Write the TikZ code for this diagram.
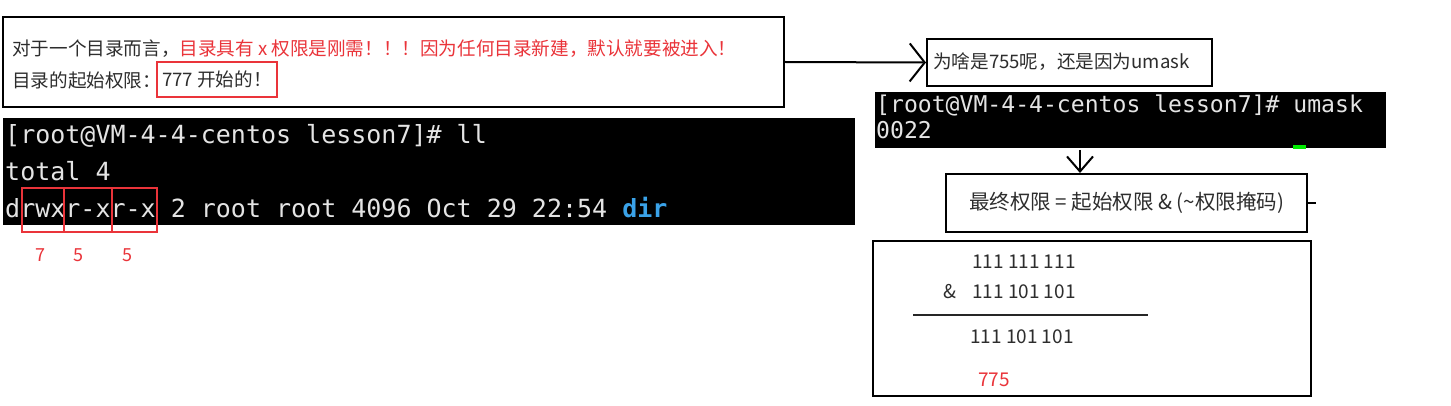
\documentclass[tikz,border=0pt]{standalone}
\usepackage{fontspec}
\usetikzlibrary{arrows.meta}
\newfontfamily\cjk{Noto Sans CJK SC}
\newfontfamily\mono{DejaVu Sans Mono}
\definecolor{myred}{RGB}{234,52,58}
\definecolor{txt}{RGB}{45,45,45}
\definecolor{termtxt}{RGB}{228,228,228}
\definecolor{dirblue}{RGB}{58,162,232}
\definecolor{cursorgreen}{RGB}{0,235,0}
\begin{document}
\begin{tikzpicture}[x=1pt,y=-1pt,
  box/.style={draw=black, line width=2pt, inner sep=0pt},
  termbox/.style={fill=black, draw=none, inner sep=0pt, anchor=north west},
  redbox/.style={draw=myred, line width=1.8pt, inner sep=0pt},
  ttxt/.style={inner sep=0pt, anchor=base west, text=termtxt, font=\mono\fontsize{25}{30}\selectfont},
  ttxtb/.style={inner sep=0pt, anchor=base west, text=termtxt, font=\mono\fontsize{23.1}{28}\selectfont},
  ctxt/.style={inner sep=0pt, anchor=west, text=txt, font=\cjk\fontsize{18.6}{22}\selectfont},
  num/.style={inner sep=0pt, anchor=west, text=txt, font=\cjk\fontsize{19}{22}\selectfont},
  lab/.style={inner sep=0pt, text=myred, font=\cjk\fontsize{18}{21}\selectfont},
  arrR/.style={line width=2pt, -{Straight Barb[length=15pt,width=38pt,line width=2pt]}},
  arrD/.style={line width=2pt, -{Straight Barb[length=15pt,width=26pt,line width=2pt]}}
]
\useasboundingbox (0,0) rectangle (1451,406);
\fill[white] (0,0) rectangle (1451,406);

% top explanation box
\node[box, minimum width=781pt, minimum height=90pt] (topbox) at (393.5,62) {};
\node[ctxt] (l1) at (12,49) {对于一个目录而言，\textcolor{myred}{目录具有 x 权限是刚需！！！因为任何目录新建，默认就要被进入！}};
\node[ctxt] (l2) at (12,80) {目录的起始权限：};
\node[redbox, minimum width=120pt, minimum height=35pt, text=txt, font=\cjk\fontsize{18.6}{22}\selectfont] (start) at (217,79.5) {777 开始的！};

% terminal 1
\node[termbox, minimum width=852pt, minimum height=107pt] (term1) at (3,118) {};
\node[ttxt] (t1a) at (5,144) {[root@VM-4-4-centos lesson7]\# ll};
\node[ttxt] (t1b) at (5,181) {total 4};
\node[ttxt] (t1c) at (5,218) {drwxr-xr-x 2 root root 4096 Oct 29 22:54 {\bfseries\color{dirblue}dir}};
\node[redbox, minimum width=42pt, minimum height=44pt] (rb1) at (43,210) {};
\node[redbox, minimum width=48pt, minimum height=44pt] (rb2) at (88,210) {};
\node[redbox, minimum width=45pt, minimum height=44pt] (rb3) at (134.5,210) {};
\node[lab] (n1) at (40,255) {7};
\node[lab] (n2) at (78,255) {5};
\node[lab] (n3) at (127,255) {5};

% question box
\node[box, minimum width=285pt, minimum height=47pt] (qbox) at (1069.5,62.5) {};
\node[ctxt] (qtext) at (933,62) {为啥是755呢，还是因为umask};
\draw[arrR] (topbox.east) -- (qbox.west);

% terminal 2
\node[termbox, minimum width=511pt, minimum height=56pt] (term2) at (875,92) {};
\node[ttxtb] (t2a) at (876,113) {[root@VM-4-4-centos lesson7]\# umask};
\node[ttxtb] (t2b) at (876,139) {0022};
\node[fill=cursorgreen, draw=none, inner sep=0pt, minimum width=13pt, minimum height=4pt, anchor=south west] (cur) at (1293,149) {};

% formula box
\node[box, minimum width=361pt, minimum height=58pt, text=txt, font=\cjk\fontsize{20.5}{24}\selectfont] (fbox) at (1126.5,203) {最终权限 = 起始权限 \& (\textasciitilde 权限掩码)};
\coordinate (d1) at (1080,150);
\draw[arrD] (d1) -- (d1 |- fbox.north);
\draw[line width=2pt] (fbox.east) -- ++(8,0);

% calculation box
\node[box, minimum width=438pt, minimum height=155pt] (calc) at (1092,318.5) {};
\node[num] (c1) at (972,262) {111 111 111};
\node[num] (amp) at (943,292) {\&};
\node[num] (c2) at (972,292) {111 101 101};
\coordinate (ruleA) at (913,315);
\coordinate (ruleB) at (1148,315);
\draw[line width=1.8pt, black!85] (ruleA) -- (ruleB);
\node[num] (c3) at (970,337) {111 101 101};
\node[num, text=myred] (res) at (978,380) {775};
\end{tikzpicture}
\end{document}
